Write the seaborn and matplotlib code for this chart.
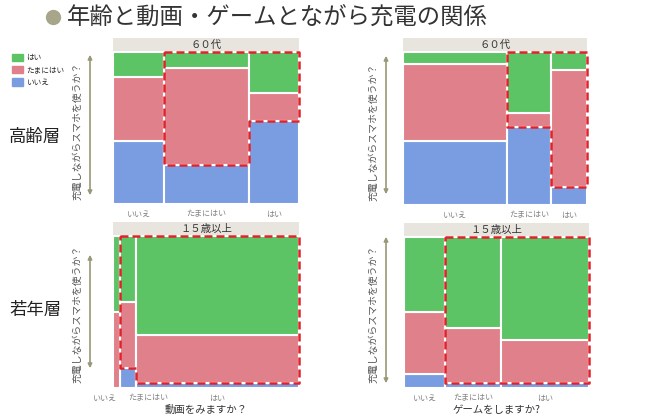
import numpy as np
import matplotlib.pyplot as plt
import seaborn as sns
from matplotlib.patches import FancyArrowPatch, Patch
from matplotlib.lines import Line2D

sns.set_theme(style="white")
plt.rcParams['font.family'] = ['Noto Sans CJK JP', 'DejaVu Sans']

answers = ["いいえ", "たまにはい", "はい"]
colors = {"はい": "#5dc466", "たまにはい": "#e0808a", "いいえ": "#7a9de2"}
ylabel = "充電しながらスマホを使うか？"

# 高齢層 x 動画 (column width = share of answers to the x question)
old_video_width = [0.274, 0.457, 0.269]
old_video_no = [0.417, 0.256, 0.543]
old_video_some = [0.420, 0.640, 0.187]
old_video_yes = [0.163, 0.104, 0.270]

# 高齢層 x ゲーム
old_game_width = [0.567, 0.240, 0.193]
old_game_no = [0.416, 0.510, 0.120]
old_game_some = [0.508, 0.094, 0.762]
old_game_yes = [0.076, 0.396, 0.118]

# 若年層 x 動画
young_video_width = [0.038, 0.084, 0.878]
young_video_no = [0.0, 0.130, 0.035]
young_video_some = [0.500, 0.436, 0.315]
young_video_yes = [0.500, 0.434, 0.650]

# 若年層 x ゲーム
young_game_width = [0.222, 0.301, 0.477]
young_game_no = [0.092, 0.030, 0.036]
young_game_some = [0.410, 0.370, 0.284]
young_game_yes = [0.498, 0.600, 0.680]

W, H = 650, 419
fig = plt.figure(figsize=(6.5, 4.19), dpi=100)


def px_axes(x0, y0, x1, y1):
    return fig.add_axes([x0 / W, 1 - y1 / H, (x1 - x0) / W, (y1 - y0) / H])


def mosaic(box, strip, widths, no, some, yes, xlabel=None, tick_ha=None):
    ax = px_axes(*box)
    widths = np.array(widths)
    left = np.concatenate([[0], np.cumsum(widths)[:-1]])
    kw = dict(width=widths, align="edge", edgecolor="white", linewidth=1.5)
    ax.bar(left, no, color=colors["いいえ"], **kw)
    ax.bar(left, some, bottom=no, color=colors["たまにはい"], **kw)
    ax.bar(left, yes, bottom=np.add(no, some), color=colors["はい"], **kw)

    # highlight: たまにはい / はい answers in the two right columns
    x1, x2, xe = left[1], left[2], widths.sum()
    hx = [x1, xe, xe, x2, x2, x1, x1]
    hy = [1, 1, no[2], no[2], no[1], no[1], 1]
    ax.plot(hx, hy, color="#e0222a", lw=1.8, ls=(0, (3.2, 1.6)), clip_on=False, zorder=5)

    ax.set_xlim(0, widths.sum())
    ax.set_ylim(0, 1)
    ax.set_yticks([])
    ax.set_xticks(left + widths / 2, answers)
    ax.tick_params(axis="x", length=0, labelsize=5.8, labelcolor="#808080", pad=4)
    if tick_ha:
        for lab, ha in zip(ax.get_xticklabels(), tick_ha):
            lab.set_ha(ha)
    for s in ax.spines.values():
        s.set_visible(False)
    if xlabel:
        ax.set_xlabel(xlabel, fontsize=7.5, color="#333333", labelpad=1.5)

    x0, y0, xr, _ = box
    sax = px_axes(x0, y0 - 14, xr, y0 - 1)
    sax.set_facecolor("#e8e5df")
    sax.set_xticks([])
    sax.set_yticks([])
    for s in sax.spines.values():
        s.set_visible(False)
    sax.text(0.5, 0.45, strip, ha="center", va="center", fontsize=7.5, color="#333333",
             transform=sax.transAxes)
    return ax


mosaic((113, 52, 299, 204), "６０代", old_video_width, old_video_no, old_video_some, old_video_yes)
mosaic((403, 52, 587, 205), "６０代", old_game_width, old_game_no, old_game_some, old_game_yes)
mosaic((113, 236, 299, 388), "１５歳以上", young_video_width, young_video_no, young_video_some,
       young_video_yes, xlabel="動画をみますか？", tick_ha=["right", "left", "center"])
mosaic((404, 237, 589, 388), "１５歳以上", young_game_width, young_game_no, young_game_some,
       young_game_yes, xlabel="ゲームをしますか?")


def fpos(x, y):
    return (x / W, 1 - y / H)


# y labels and arrows
for tx, ty, ax_x, a0, a1 in [(77, 131, 90, 52, 198), (373, 132, 386, 53, 197),
                             (77, 314, 90, 252, 371), (373, 314, 386, 234, 386)]:
    fig.text(*fpos(tx, ty), ylabel, rotation=90, ha="center", va="center",
             fontsize=7.1, color="#555555")
    fig.add_artist(FancyArrowPatch(fpos(ax_x, a1), fpos(ax_x, a0), arrowstyle="<|-|>",
                                   mutation_scale=6, color="#999878", lw=1.2,
                                   transform=fig.transFigure))

# row labels
fig.text(*fpos(35, 137), "高齢層", ha="center", va="center", fontsize=12.5, color="#222222")
fig.text(*fpos(35, 310), "若年層", ha="center", va="center", fontsize=12.5, color="#222222")

# title
fig.add_artist(Line2D([53 / W], [1 - 17 / H], marker="o", markersize=10, color="#a8a68a",
                      transform=fig.transFigure))
fig.text(*fpos(67, 17), "年齢と動画・ゲームとながら充電の関係", ha="left", va="center",
         fontsize=16.8, color="#333333")

# legend
handles = [Patch(color=colors[k], label=k) for k in ["はい", "たまにはい", "いいえ"]]
fig.legend(handles=handles, loc="upper left", bbox_to_anchor=fpos(9, 51), frameon=False,
           fontsize=5.5, handlelength=1.4, handleheight=1.1, handletextpad=0.4,
           labelspacing=0.5, borderaxespad=0)

fig.savefig("out.png", dpi=100)
